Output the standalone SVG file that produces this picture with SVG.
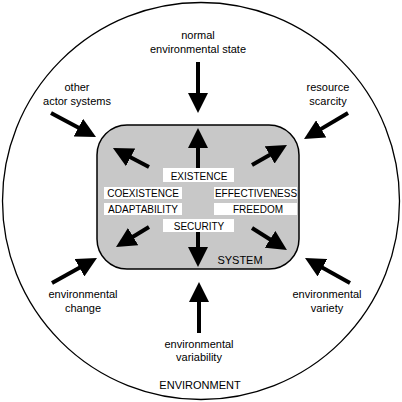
<svg xmlns="http://www.w3.org/2000/svg" width="402" height="402" viewBox="0 0 402 402">
<style>
text{font-family:"Liberation Sans",Arial,sans-serif;fill:#000;text-anchor:middle}
.o{font-size:11px}
.b{font-size:10px}
.box{fill:#fff;stroke:none}
.ar{stroke:#000;stroke-width:4;fill:none;marker-end:url(#h)}
</style>
<defs>
<marker id="h" viewBox="0 0 10 10" refX="2" refY="5" markerWidth="5" markerHeight="5" orient="auto">
<path d="M0,0 L10,5 L0,10 z" fill="#000"/>
</marker>
</defs>
<rect width="402" height="402" fill="#fff"/>
<g id="environment">
<circle cx="201" cy="201" r="198.5" fill="#fff" stroke="#000" stroke-width="1.3"/>
<text class="o" x="200" y="389">ENVIRONMENT</text>
</g>
<g id="system">
<rect x="97" y="125" width="202" height="144" rx="30" ry="30" fill="#c8c8c8" stroke="#000" stroke-width="1.5"/>
<text class="o" x="240" y="264">SYSTEM</text>
</g>
<g id="existence"><rect class="box" x="163" y="168" width="71" height="14"/><text class="b" x="199" y="179.5">EXISTENCE</text></g>
<g id="coexistence"><rect class="box" x="104" y="187" width="78" height="12"/><text class="b" x="143" y="196.5">COEXISTENCE</text></g>
<g id="effectiveness"><rect class="box" x="214" y="187" width="83" height="12"/><text class="b" x="256" y="196.5">EFFECTIVENESS</text></g>
<g id="adaptability"><rect class="box" x="104" y="203" width="78" height="12"/><text class="b" x="143" y="212.5">ADAPTABILITY</text></g>
<g id="freedom"><rect class="box" x="214" y="203" width="83" height="12"/><text class="b" x="258" y="212.5">FREEDOM</text></g>
<g id="security"><rect class="box" x="163" y="219" width="71" height="13"/><text class="b" x="199" y="229.5">SECURITY</text></g>
<g id="normal"><text class="o" x="198" y="39">normal</text><text class="o" x="198" y="53">environmental state</text></g>
<g id="other"><text class="o" x="77" y="91">other</text><text class="o" x="77" y="105">actor systems</text></g>
<g id="resource"><text class="o" x="328" y="91">resource</text><text class="o" x="328" y="105">scarcity</text></g>
<g id="change"><text class="o" x="83" y="298">environmental</text><text class="o" x="83" y="312">change</text></g>
<g id="variety"><text class="o" x="327" y="298">environmental</text><text class="o" x="327" y="312">variety</text></g>
<g id="variability"><text class="o" x="199" y="348">environmental</text><text class="o" x="199" y="361">variability</text></g>
<g id="connectors">
<line class="ar" x1="198" y1="62" x2="198" y2="97"/>
<line class="ar" x1="199" y1="333" x2="199" y2="298"/>
<line class="ar" x1="51" y1="113" x2="81.9" y2="129.5"/>
<line class="ar" x1="348" y1="113" x2="317.8" y2="130.9"/>
<line class="ar" x1="52" y1="283" x2="83" y2="265.8"/>
<line class="ar" x1="350" y1="283" x2="319" y2="265.8"/>
<line class="ar" x1="198" y1="168" x2="198" y2="144"/>
<line class="ar" x1="198" y1="232" x2="198" y2="251"/>
<line class="ar" x1="149" y1="167" x2="127.1" y2="155.5"/>
<line class="ar" x1="252" y1="165" x2="273.1" y2="152.9"/>
<line class="ar" x1="149" y1="227" x2="129.7" y2="238.7"/>
<line class="ar" x1="252" y1="228" x2="273.4" y2="241.5"/>
</g>
</svg>
